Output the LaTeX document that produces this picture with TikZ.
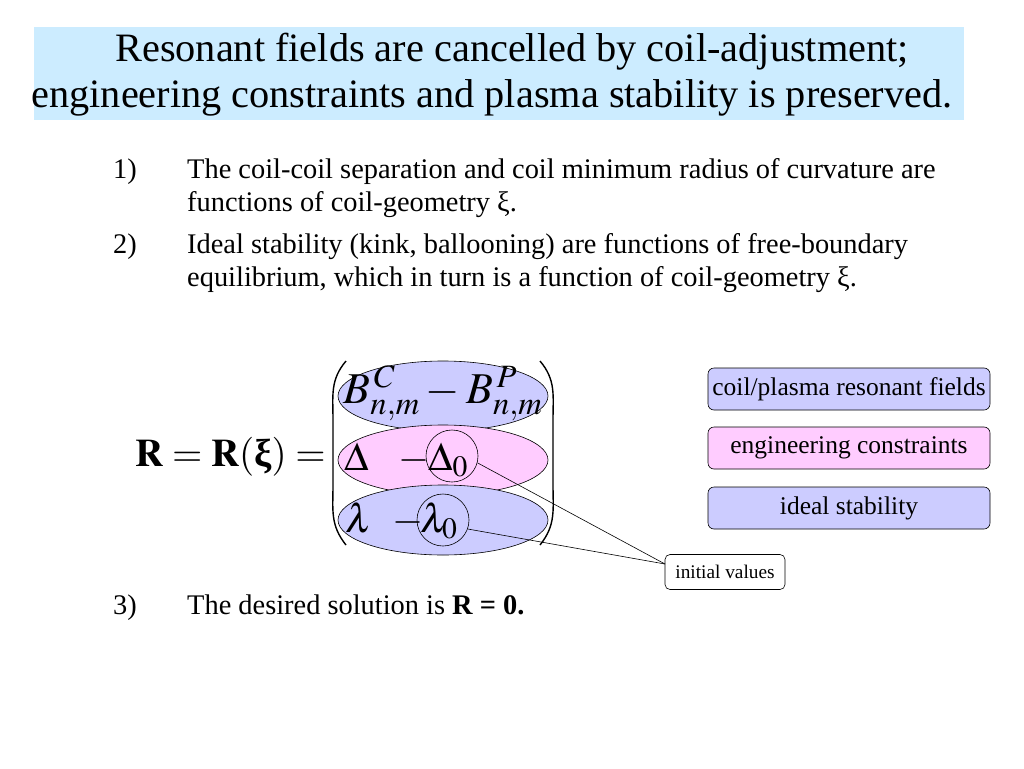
\documentclass[tikz,border=0pt]{standalone}
\usepackage{mathptmx}
\usepackage{fontspec}
\setmainfont{Liberation Serif}
\usetikzlibrary{shapes.geometric}
\definecolor{titlebg}{RGB}{204,236,255}
\definecolor{bluefill}{RGB}{204,204,255}
\definecolor{pinkfill}{RGB}{255,204,255}
\begin{document}
\begin{tikzpicture}[x=1pt,y=-1pt,
  titletext/.style={anchor=base,inner sep=0pt,font=\fontsize{40.3}{45}\selectfont},
  bodytext/.style={anchor=base west,inner sep=0pt,font=\fontsize{28.4}{32}\selectfont},
  ell/.style={ellipse,draw=black,line width=0.6pt,minimum width=210,minimum height=70,inner sep=0pt},
  sidebox/.style={rounded corners=6pt,draw=black,line width=0.6pt,minimum width=282,minimum height=42,inner sep=0pt,font=\fontsize{25.5}{28}\selectfont},
  circ/.style={circle,draw=black,line width=0.6pt,minimum size=52,inner sep=0pt},
  mth/.style={anchor=base west,inner sep=0pt,font=\fontsize{40}{44}\selectfont},
  conn/.style={draw=black,line width=0.6pt}]
\useasboundingbox (0,0) rectangle (1024,768);
\fill[white] (0,0) rectangle (1024,768);
% title
\fill[titlebg] (34,27) rectangle (964,120);
\node[titletext] (title1) at (512,62) {Resonant fields are cancelled by coil-adjustment;};
\node[titletext] (title2) at (492,107) {engineering constraints and plasma stability is preserved.};
% items
\node[bodytext] (n1) at (113,178) {1)};
\node[bodytext] (t1a) at (187,178) {The coil-coil separation and coil minimum radius of curvature are};
\node[bodytext] (t1b) at (187,211) {functions of coil-geometry ξ.};
\node[bodytext] (n2) at (113,253) {2)};
\node[bodytext] (t2a) at (187,253) {Ideal stability (kink, ballooning) are functions of free-boundary};
\node[bodytext] (t2b) at (187,286) {equilibrium, which in turn is a function of coil-geometry ξ.};
\node[bodytext] (n3) at (113,614) {3)};
\node[bodytext] (t3) at (187,614) {The desired solution is \textbf{R = 0.}};
% equation left
\node[anchor=base east,inner sep=0pt,font=\fontsize{39}{42}\selectfont] (lhs) at (326,466)
  {$\mathbf{R}=\mathbf{R}(\mbox{\textbf{ξ}})=$};
% ellipses
\node[ell,fill=bluefill] (e1) at (443,396) {};
\node[ell,fill=pinkfill] (e2) at (443,460) {};
\node[ell,fill=bluefill] (e3) at (443,520) {};
\node[inner sep=0pt,font=\fontsize{44}{48}\selectfont] (m1) at (443,393) {$B^{\,C}_{n,m}-B^{\,P}_{n,m}$};
\node[mth] (m2a) at (344,470) {$\Delta$};
\node[mth] (m2b) at (398,470) {$-$};
\node[circ] (c2) at (452,456) {};
\node[mth] (m2c) at (428,470) {$\Delta_0$};
\node[mth] (m3a) at (345,532) {$\lambda$};
\node[mth] (m3b) at (392,532) {$-$};
\node[circ] (c3) at (443,520) {};
\node[mth] (m3c) at (420,532) {$\lambda_0$};
% parentheses
\draw[line width=1.4pt] (346,361) .. controls (330,380) and (333,395) .. (333,420) -- (333,485) .. controls (333,510) and (330,525) .. (346,545);
\draw[line width=1.4pt] (540,361) .. controls (556,380) and (553,395) .. (553,420) -- (553,485) .. controls (553,510) and (556,525) .. (540,545);
% side boxes
\node[sidebox,fill=bluefill] (b1) at (849,389) {coil/plasma resonant fields};
\node[sidebox,fill=pinkfill] (b2) at (849,448) {engineering constraints};
\node[sidebox,fill=bluefill] (b3) at (849,508) {ideal stability};
% initial values
\node[rounded corners=5pt,draw=black,line width=0.6pt,minimum width=120,minimum height=35,inner sep=0pt,font=\fontsize{19.3}{22}\selectfont] (iv) at (725,572) {initial values};
\coordinate (ivp) at (665,564);
\draw[conn] (c2.-15) -- (ivp);
\draw[conn] (c3.-20) -- (ivp);
\end{tikzpicture}
\end{document}
